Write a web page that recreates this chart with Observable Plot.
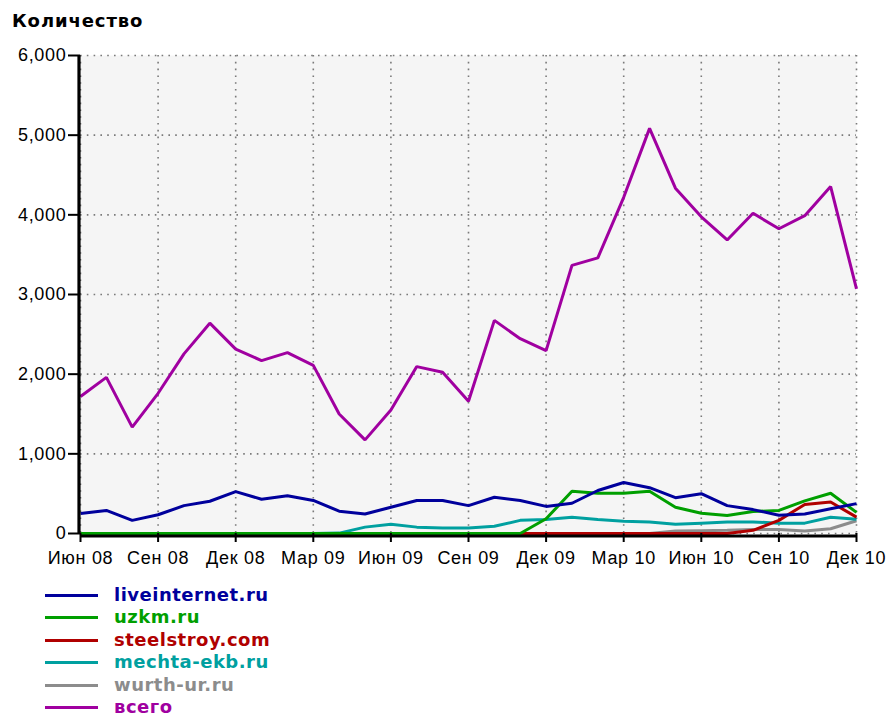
<!DOCTYPE html>
<html>
<head>
<meta charset="utf-8">
<script src="https://cdn.jsdelivr.net/npm/d3@7"></script>
<script src="https://cdn.jsdelivr.net/npm/@observablehq/plot@0.6"></script>
<style>
  html, body { margin: 0; padding: 0; background: #fff; width: 887px; height: 716px; overflow: hidden; }
  #title { position: absolute; left: 12px; top: 10px; font: bold 18px "DejaVu Sans"; color: #000; letter-spacing: 0.9px; }
  #chart { position: absolute; left: 0; top: 40px; }
  #chart svg { overflow: visible; }
  #legend { position: absolute; left: 0; top: 584px; }
  #legend .row { position: absolute; left: 0; height: 20px; width: 400px; }
  #legend .sw { position: absolute; left: 45px; top: 10px; width: 53px; height: 3px; }
  #legend .lb { position: absolute; left: 114px; top: 1px; font: bold 18px "DejaVu Sans"; letter-spacing: 0.5px; line-height: 20px; white-space: nowrap; }
  svg text { font-family: "Liberation Sans", Arial, sans-serif; }
</style>
</head>
<body>
<div id="title">Количество</div>
<div id="chart"></div>
<div id="legend"></div>
<script>
// Months (categories), June 2008 .. December 2010
const months = ["2008-06","2008-07","2008-08","2008-09","2008-10","2008-11","2008-12",
  "2009-01","2009-02","2009-03","2009-04","2009-05","2009-06","2009-07","2009-08","2009-09","2009-10","2009-11","2009-12",
  "2010-01","2010-02","2010-03","2010-04","2010-05","2010-06","2010-07","2010-08","2010-09","2010-10","2010-11","2010-12"];

const tickLabels = ["Июн 08","Сен 08","Дек 08","Мар 09","Июн 09","Сен 09","Дек 09","Мар 10","Июн 10","Сен 10","Дек 10"];
const yTicks = [0, 1000, 2000, 3000, 4000, 5000, 6000];

const seriesNames = ["liveinternet.ru","uzkm.ru","steelstroy.com","mechta-ekb.ru","wurth-ur.ru","всего"];
const seriesColors = ["#00009c","#009f00","#b00000","#00a0a0","#8c8c8c","#a000a0"];

const liveinternet = [250,290,165,235,350,405,525,430,475,415,280,245,330,415,415,350,455,415,340,380,540,640,575,450,500,350,300,230,245,310,375];
const uzkm         = [0,0,0,0,0,0,0,0,0,0,0,0,0,0,0,0,0,0,185,530,505,505,530,330,255,225,275,290,410,505,265];
const steelstroy   = [0,0,0,0,0,0,0,0,0,0,0,0,0,0,0,0,0,0,0,0,0,0,0,0,0,0,40,165,365,395,205];
const mechta       = [0,0,0,0,0,0,0,0,0,0,5,80,115,80,70,70,90,165,175,205,175,155,145,115,130,145,145,130,130,205,180];
const wurth        = [0,0,0,0,0,0,0,0,0,0,0,0,0,0,0,0,0,0,0,0,0,0,0,30,35,40,50,50,30,60,160];
const total        = [1720,1960,1335,1760,2255,2640,2315,2170,2270,2110,1500,1175,1550,2095,2025,1660,2675,2445,2295,3365,3460,4220,5085,4335,3975,3685,4020,3825,3990,4355,3070];

const seriesValues = [liveinternet, uzkm, steelstroy, mechta, wurth, total];
const drawOrder = [4, 3, 2, 1, 0, 5]; // bottom to top

const tickIdx = tickLabels.map((_, i) => i * 3);

const lineMarks = drawOrder.map(s =>
  Plot.line(seriesValues[s].map((v, i) => ({i, v, m: months[i]})), {
    x: "i", y: "v", stroke: seriesColors[s], strokeWidth: 3, strokeLinejoin: "miter", strokeLinecap: "butt"
  })
);

const plot = Plot.plot({
  width: 887,
  height: 530,
  marginLeft: 80,
  marginRight: 31,
  marginTop: 15,
  marginBottom: 37,
  style: {fontSize: "18px", letterSpacing: "0.7px", color: "#000", background: "transparent", overflow: "visible"},
  x: {type: "linear", domain: [0, months.length - 1], label: null},
  y: {domain: [0, 6000], label: null},
  marks: [
    Plot.frame({fill: "#f5f5f5", stroke: null}),
    Plot.gridX(tickIdx, {stroke: "#7a7a7a", strokeOpacity: 1, strokeWidth: 1.6, strokeDasharray: "1.6,5.2"}),
    Plot.gridY(yTicks, {stroke: "#7a7a7a", strokeOpacity: 1, strokeWidth: 1.6, strokeDasharray: "1.6,5.2"}),
    ...lineMarks,
    Plot.ruleY([0], {stroke: "#000", strokeWidth: 3, dy: 2.5}),
    Plot.ruleX([0], {stroke: "#000", strokeWidth: 3.2, dx: -1.5, y1: 0, y2: 6000}),
    Plot.axisX(tickIdx, {tickSize: 9, tickPadding: 9, strokeWidth: 2, tickFormat: (d) => tickLabels[d / 3], fill: "#000", fontSize: 18, label: null}),
    Plot.axisY(yTicks, {tickSize: 12, tickPadding: 2, strokeWidth: 2, tickFormat: d3.format(","), fill: "#000", fontSize: 18, label: null})
  ]
});
document.getElementById("chart").appendChild(plot);

// legend
const legend = document.getElementById("legend");
seriesNames.forEach((name, k) => {
  const row = document.createElement("div");
  row.className = "row";
  row.style.top = (k * 22.4) + "px";
  const sw = document.createElement("div");
  sw.className = "sw";
  sw.style.background = seriesColors[k];
  const lb = document.createElement("div");
  lb.className = "lb";
  lb.style.color = seriesColors[k];
  lb.textContent = name;
  row.appendChild(sw);
  row.appendChild(lb);
  legend.appendChild(row);
});
</script>
</body>
</html>
